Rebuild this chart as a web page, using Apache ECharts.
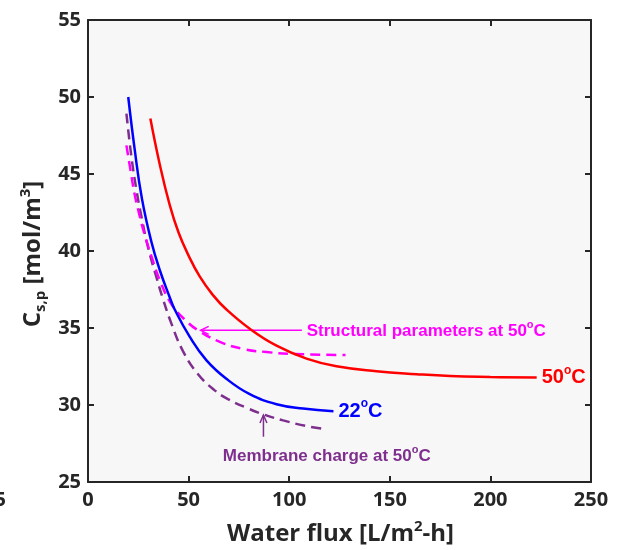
<!DOCTYPE html>
<html><head><meta charset="utf-8">
<script src="https://cdn.jsdelivr.net/npm/echarts/dist/echarts.min.js"></script>
<style>html,body{margin:0;padding:0;background:#fff}#c{width:618px;height:550px}</style>
</head><body><div id="c"></div>
<script>
// ---- data ----
const xMin = 0, xMax = 250, xStep = 50;
const yMin = 25, yMax = 55, yStep = 5;

const flux22 = [20, 23.2, 26.8, 31.5, 35.7, 40.6, 43.1, 50.6, 58.9, 68.8, 80.4, 93.7, 106.9, 122];
const cs22   = [50.0, 46.6, 43.4, 40.6, 38.75, 37.0, 36.2, 34.42, 32.9, 31.7, 30.7, 30.05, 29.77, 29.6];

const flux50 = [31, 35.7, 40.6, 45, 50, 55.5, 62, 68.8, 80.4, 93.7, 108.6, 123.5, 143.4, 163.3, 180, 200, 223];
const cs50   = [48.6, 45.6, 43.0, 41.2, 39.7, 38.35, 37.15, 36.2, 34.95, 33.85, 33.01, 32.51, 32.19, 32.0, 31.88, 31.82, 31.78];

const fluxStruct = [19.1, 21.4, 23.1, 25.4, 28.0, 31.3, 35.7, 41.5, 48.9, 54.7, 65.5, 77.9, 88.7, 101.9, 128];
const csStruct   = [46.86, 45.03, 43.73, 42.43, 41.13, 39.75, 38.1, 36.54, 35.45, 34.85, 34.1, 33.62, 33.44, 33.31, 33.25];

const fluxCharge = [19.1, 21.6, 24.1, 26.6, 29.8, 34.0, 37.0, 41.0, 47.2, 54.7, 63.0, 69.6, 79.1, 87.0, 97.0, 108.0, 118.5];
const csCharge   = [48.92, 46.1, 43.94, 42.21, 40.26, 38.3, 37.0, 35.45, 33.5, 32.0, 30.95, 30.38, 29.8, 29.4, 29.0, 28.65, 28.42];

const label22 = '22', label50 = '50';
const structText = 'Structural parameters at 50';
const chargeText = 'Membrane charge at 50';
const xTitle = 'Water flux [L/m';
const yTitle = 'C';

// annotation anchors in data units
const structArrowFrom = [106.3, 34.85], structArrowTip = [56, 34.85], structTextAt = [108.7, 34.8];
const chargeArrowFrom = [87.2, 27.94], chargeArrowTip = [87.2, 29.35], chargeTextAt = [67, 26.69];

// ---- chart ----
const zip = (a, b) => a.map((v, i) => [v, b[i]]);
const FONT = "'Open Sans', sans-serif";
const LFONT = "'Liberation Sans', Arial, sans-serif";
const INK = '#262626';
const BLUE = '#0000ff', RED = '#ff0000', MAG = '#ff00ff', PUR = '#7e2f8e';

function mkAxis(isX, pos, showLabel) {
  return {
    type: 'value', position: pos,
    min: isX ? xMin : yMin, max: isX ? xMax : yMax, interval: isX ? xStep : yStep,
    axisLine: { show: true, onZero: false, lineStyle: { color: INK, width: 2 } },
    axisTick: { show: true, inside: true, length: 6, lineStyle: { color: INK, width: 2 } },
    axisLabel: { show: showLabel, color: INK, fontFamily: FONT, fontSize: 20, fontWeight: 'bold', margin: isX ? 8 : 7 },
    splitLine: { show: false }
  };
}
function supRich(color, size, supSize) {
  return {
    t: { fontFamily: LFONT, fontWeight: 'bold', fontSize: size, color: color, fill: color, lineHeight: size + 6, verticalAlign: 'middle' },
    s: { fontFamily: LFONT, fontWeight: 'bold', fontSize: supSize, color: color, fill: color, verticalAlign: 'top' }
  };
}
function lineSeries(name, xs, ys, color, dashed, endText) {
  const s = {
    type: 'line', name: name, data: zip(xs, ys), showSymbol: false, symbol: 'none',
    smooth: 0.45, silent: true, animation: false,
    lineStyle: { color: color, width: 2.5, type: dashed ? [10, 6] : 'solid' }
  };
  if (endText) {
    s.endLabel = { show: true, distance: 5, formatter: '{t|' + endText + '}{s|o}{t|C}', rich: supRich(color, 20, 12) };
  }
  return s;
}

const chart = echarts.init(document.getElementById('c'), null, { renderer: 'canvas' });
chart.setOption({
  animation: false,
  backgroundColor: '#ffffff',
  grid: { left: 88, top: 20, right: 27, bottom: 68, show: true, backgroundColor: '#f7f7f7', borderWidth: 0 },
  xAxis: [mkAxis(true, 'bottom', true), mkAxis(true, 'top', false)],
  yAxis: [mkAxis(false, 'left', true), mkAxis(false, 'right', false)],
  series: [
    lineSeries('Membrane charge', fluxCharge, csCharge, PUR, true, null),
    lineSeries('Structural', fluxStruct, csStruct, MAG, true, null),
    lineSeries('22C', flux22, cs22, BLUE, false, label22),
    lineSeries('50C', flux50, cs50, RED, false, label50)
  ]
});

const px = p => chart.convertToPixel({ gridIndex: 0 }, p);
const sF = px(structArrowFrom), sT = px(structArrowTip), sTx = px(structTextAt);
const cF = px(chargeArrowFrom), cT = px(chargeArrowTip), cTx = px(chargeTextAt);
const gridRect = chart.getModel().getComponent('grid', 0).coordinateSystem.getRect();
const cx = gridRect.x + gridRect.width / 2, cy = gridRect.y + gridRect.height / 2;

chart.setOption({
  graphic: [
    { type: 'line', shape: { x1: sF[0], y1: sF[1], x2: sT[0], y2: sT[1] }, style: { stroke: MAG, lineWidth: 1.5 } },
    { type: 'polyline', shape: { points: [[sT[0] + 8, sT[1] - 4], [sT[0], sT[1]], [sT[0] + 8, sT[1] + 4]] }, style: { stroke: MAG, lineWidth: 1.5, fill: null } },
    { type: 'text', x: sTx[0], y: sTx[1], style: { text: '{t|' + structText + '}{s|o}{t|C}', rich: supRich(MAG, 17, 11), fill: MAG, align: 'left', verticalAlign: 'middle' } },
    { type: 'line', shape: { x1: cF[0], y1: cF[1], x2: cT[0], y2: cT[1] }, style: { stroke: PUR, lineWidth: 1.5 } },
    { type: 'polyline', shape: { points: [[cT[0] - 3.5, cT[1] + 8], [cT[0], cT[1]], [cT[0] + 3.5, cT[1] + 8]] }, style: { stroke: PUR, lineWidth: 1.5, fill: null } },
    { type: 'text', x: cTx[0], y: cTx[1], style: { text: '{t|' + chargeText + '}{s|o}{t|C}', rich: supRich(PUR, 17, 11), fill: PUR, align: 'left', verticalAlign: 'middle' } },
    // axis titles
    { type: 'text', x: cx + 1, y: 534, style: {
        text: '{m|' + xTitle + '}{sup|2}{m|-h]}', align: 'center', verticalAlign: 'middle', fill: INK,
        rich: { m: { fontFamily: FONT, fontWeight: 'bold', fontSize: 24, fill: INK, lineHeight: 30, verticalAlign: 'middle' },
                sup: { fontFamily: FONT, fontWeight: 'bold', fontSize: 15, fill: INK, verticalAlign: 'top' } } } },
    { type: 'text', x: 33, y: cy + 3, rotation: Math.PI / 2, style: {
        text: '{m|' + yTitle + '}{sub|s,p}{m| [mol/m}{sup|3}{m|]}', align: 'center', verticalAlign: 'middle', fill: INK,
        rich: { m: { fontFamily: FONT, fontWeight: 'bold', fontSize: 24, fill: INK, lineHeight: 30, verticalAlign: 'middle' },
                sub: { fontFamily: FONT, fontWeight: 'bold', fontSize: 15, fill: INK, verticalAlign: 'bottom' },
                sup: { fontFamily: FONT, fontWeight: 'bold', fontSize: 15, fill: INK, verticalAlign: 'top' } } } },
    // clipped tick label at the far left edge
    { type: 'text', x: 6, y: gridRect.y + gridRect.height + 8, style: { text: '5', align: 'right', verticalAlign: 'top', fontFamily: FONT, fontWeight: 'bold', fontSize: 20, fill: INK } }
  ]
});
</script></body></html>
